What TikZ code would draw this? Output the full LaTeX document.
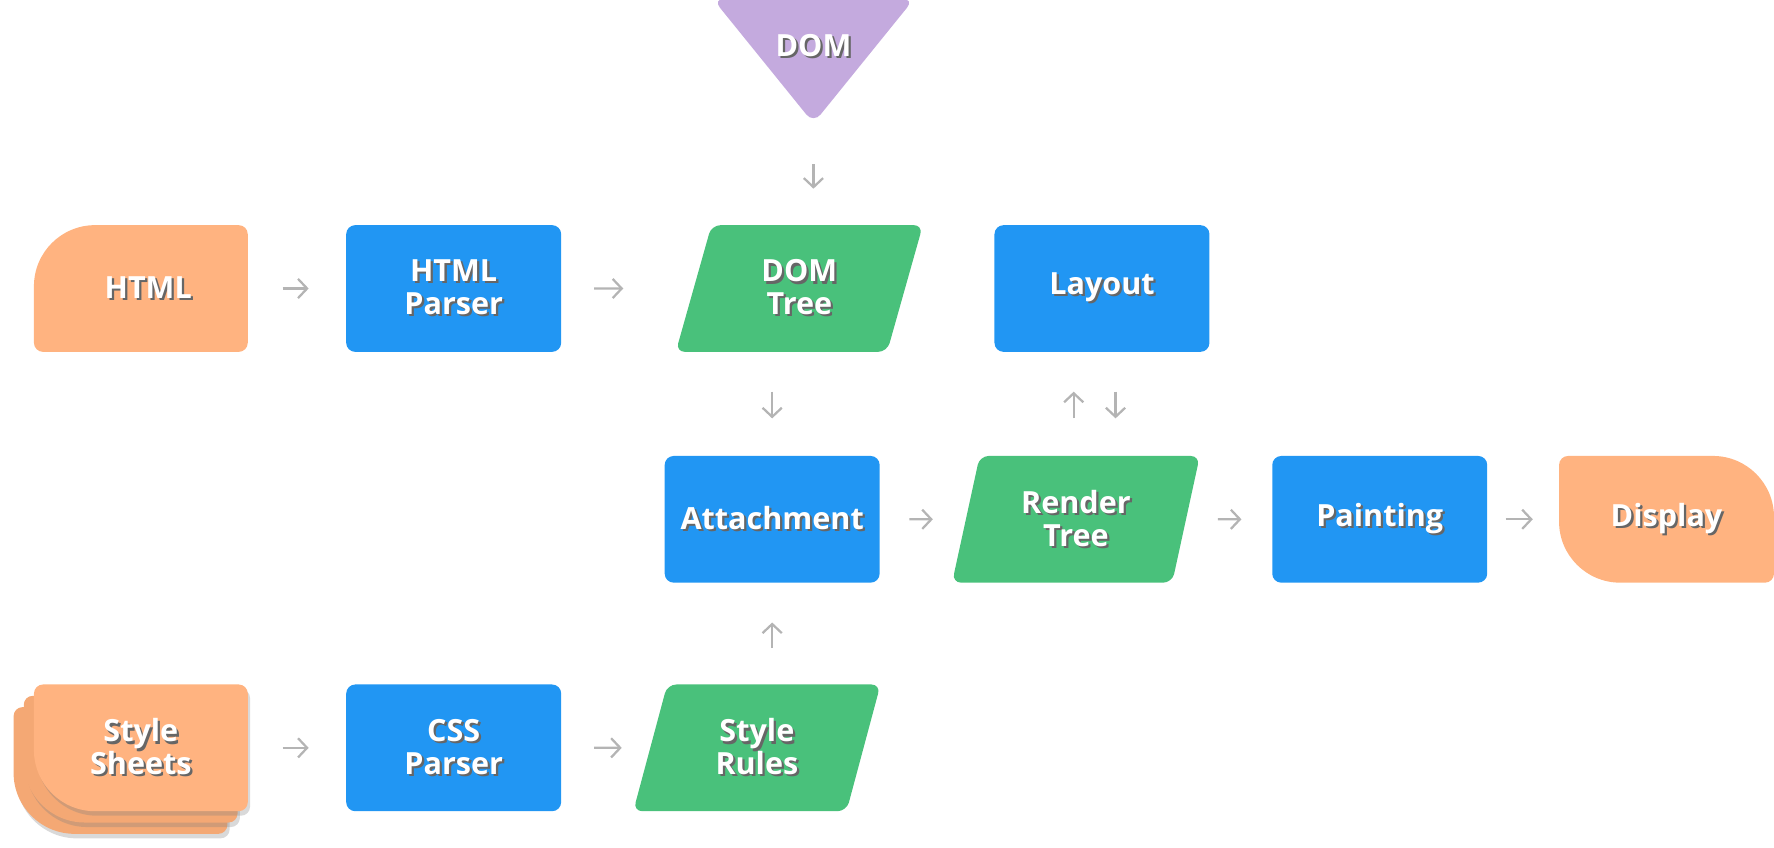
\documentclass[tikz,border=0pt]{standalone}
\usepackage{fontspec}
\setmainfont{Open Sans}
\usetikzlibrary{shapes.geometric,arrows.meta,shadows}

\definecolor{procblue}{HTML}{2196F3}
\definecolor{datagreen}{HTML}{49C17B}
\definecolor{ioorange}{HTML}{FFB380}
\definecolor{stackorange}{HTML}{F4A874}
\definecolor{dompurple}{HTML}{C4AADE}
\definecolor{flowgray}{HTML}{B4B4B4}

\newcommand{\sh}[1]{\rlap{\kern2pt\raisebox{-2pt}{\textcolor{black!60}{#1}}}#1}

\tikzset{
  lbl/.style={text=white, font=\bfseries\fontsize{27}{29}\selectfont, align=center, inner sep=0pt},
  proc/.style={lbl, rectangle, rounded corners=8pt, fill=procblue, minimum width=190pt, minimum height=112pt},
  data/.style={lbl, trapezium, trapezium left angle=75, trapezium right angle=105, trapezium stretches=true,
    rounded corners=8pt, fill=datagreen, minimum width=219pt, minimum height=112pt},
  io/.style={lbl, rectangle, minimum width=190pt, minimum height=112pt},
  flow/.style={draw=flowgray, line width=2pt, -{Straight Barb[length=8pt,width=17pt]}}
}

\begin{document}
\begin{tikzpicture}[x=1pt,y=1pt]
\useasboundingbox (0,0) rectangle (1568,-749);

% shapes with mixed corners
\fill[dompurple, rounded corners=10pt] (630,1) -- (808,1) -- (719,-109) -- cycle;
\fill[ioorange] (30,-253) arc[start angle=180,end angle=90,radius=54] -- (211,-199) arc[start angle=90,end angle=0,radius=8]
  -- (219,-303) arc[start angle=0,end angle=-90,radius=8] -- (38,-311) arc[start angle=270,end angle=180,radius=8] -- cycle;
\fill[ioorange] (1378,-411) arc[start angle=180,end angle=90,radius=8] -- (1514,-403) arc[start angle=90,end angle=0,radius=54]
  -- (1568,-507) arc[start angle=0,end angle=-90,radius=8] -- (1432,-515) arc[start angle=270,end angle=180,radius=54] -- cycle;
\foreach \dx/\dy/\col in {-18/-20/stackorange,-9/-10/stackorange,0/0/ioorange} {
  \fill[\col, shift={(\dx,\dy)}, drop shadow={shadow xshift=2pt, shadow yshift=-4pt, opacity=.3}]
    (30,-613) arc[start angle=180,end angle=90,radius=8] -- (211,-605) arc[start angle=90,end angle=0,radius=8]
    -- (219,-709) arc[start angle=0,end angle=-90,radius=8] -- (84,-717) arc[start angle=270,end angle=180,radius=54] -- cycle;
}

\node[lbl] (dom) at (719,-41) {\sh{DOM}};
\coordinate (domtip) at (719,-105);

\node[io] (html) at (124.5,-255) {\hspace{13pt}\sh{HTML}};
\node[proc] (hparser) at (401,-255) {\sh{HTML}\\\sh{Parser}};
\node[data] (dtree) at (706.5,-255) {\sh{DOM}\\\sh{Tree}};
\node[proc] (layout) at (974,-255) {\sh{Layout}};

\node[proc] (attach) at (682.5,-459) {\sh{Attachment}};
\node[data] (rtree) at (951,-459) {\sh{Render}\\\sh{Tree}};
\node[proc] (paint) at (1219.5,-459) {\sh{Painting}};
\node[io] (display) at (1473,-459) {\raisebox{-6pt}{\sh{Display}}};

\node[io] (sheets) at (124.5,-661) {\sh{Style}\\\sh{Sheets}};
\node[proc] (cparser) at (401,-661) {\sh{CSS}\\\sh{Parser}};
\node[data] (srules) at (669,-661) {\sh{Style}\\\sh{Rules}};

\draw[flow, shorten <=30pt, shorten >=33pt] (html.east) -- (hparser.west);
\draw[flow, shorten <=29pt, shorten >=62pt] (hparser.east) -- (dtree.west);
\draw[flow, shorten <=40pt, shorten >=32pt] (domtip) -- (domtip |- dtree.north);
\draw[flow, shorten <=35pt, shorten >=33pt] (dtree.south -| attach.north) -- (attach.north);
\draw[flow, shorten <=33pt, shorten >=35pt] ([xshift=-25pt]layout.south |- rtree.north) -- ([xshift=-25pt]layout.south);
\draw[flow, shorten <=35pt, shorten >=33pt] ([xshift=12pt]layout.south) -- ([xshift=12pt]layout.south |- rtree.north);
\draw[flow, shorten <=26pt, shorten >=29pt] (attach.east) -- (rtree.west);
\draw[flow, shorten <=28pt, shorten >=27pt] (rtree.east) -- (paint.west);
\draw[flow, shorten <=16pt, shorten >=23pt] (paint.east) -- (display.west);
\draw[flow, shorten <=30pt, shorten >=33pt] (sheets.east) -- (cparser.west);
\draw[flow, shorten <=29pt, shorten >=25pt] (cparser.east) -- (srules.west);
\draw[flow, shorten <=32pt, shorten >=35pt] (srules.north -| attach.south) -- (attach.south);
\end{tikzpicture}
\end{document}
